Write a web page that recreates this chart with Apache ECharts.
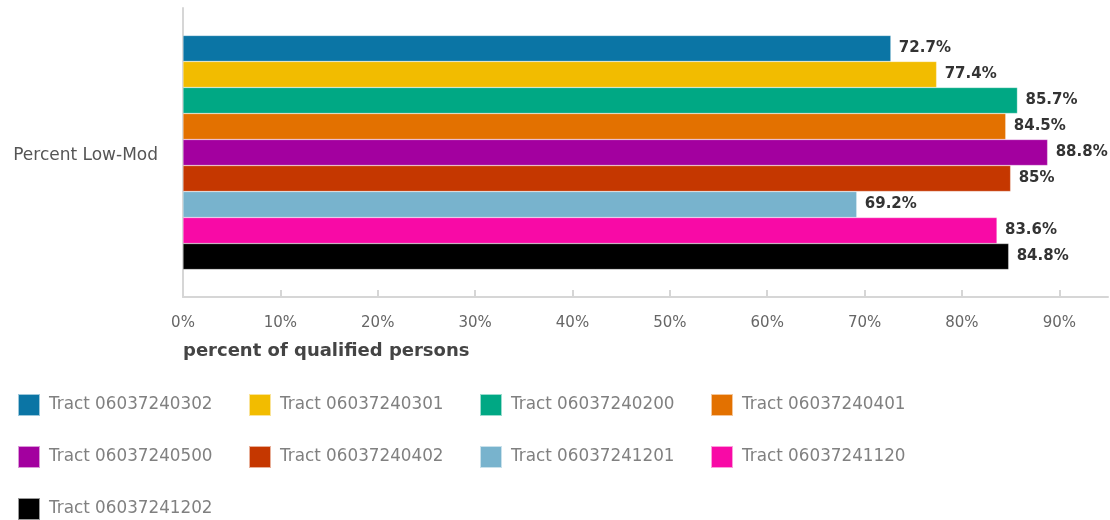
<!DOCTYPE html>
<html>
<head>
<meta charset="utf-8">
<script src="https://cdn.jsdelivr.net/npm/echarts@6/dist/echarts.min.js"></script>
<style>
  html, body { margin: 0; padding: 0; background: #fff; }
  #chart { width: 1110px; height: 520px; }
</style>
</head>
<body>
<div id="chart"></div>
<script>
// Share of low/moderate income persons per census tract
const categories = ['Percent Low-Mod'];
const tracts = [
  'Tract 06037240302', 'Tract 06037240301', 'Tract 06037240200',
  'Tract 06037240401', 'Tract 06037240500', 'Tract 06037240402',
  'Tract 06037241201', 'Tract 06037241120', 'Tract 06037241202'
];
const values = [72.7, 77.4, 85.7, 84.5, 88.8, 85, 69.2, 83.6, 84.8];
const colors = ['#0b75a5', '#f2bc00', '#00a884', '#e37100', '#a3009f',
                '#c53700', '#78b3cd', '#f80aa6', '#000000'];
const xTicks = [0, 10, 20, 30, 40, 50, 60, 70, 80, 90];

const chart = echarts.init(document.getElementById('chart'), null, { renderer: 'canvas' });

const series = tracts.map((name, i) => ({
  name: name,
  type: 'bar',
  data: [values[i]],
  barCategoryGap: '19%',
  barGap: '0%',
  itemStyle: { color: colors[i], borderColor: 'rgba(255,255,255,0.6)', borderWidth: 0.5 },
  label: {
    show: true,
    position: 'right',
    distance: 8,
    formatter: p => p.value + '%',
    fontFamily: 'DejaVu Sans',
    fontWeight: 'bold',
    fontSize: 15,
    color: '#333'
  }
}));

// Legend as a fixed 4-column grid: one single-entry legend per cell
const legendCols = 4;
const legends = tracts.map((name, i) => ({
  left: 17 + (i % legendCols) * 231,
  top: 393 + Math.floor(i / legendCols) * 52,
  padding: 0,
  orient: 'horizontal',
  icon: 'rect',
  itemWidth: 22,
  itemHeight: 22,
  data: [name],
  textStyle: { fontSize: 16.8, color: '#808080', padding: [0, 0, 0, 4] }
}));

chart.setOption({
  animation: false,
  color: colors,
  textStyle: { fontFamily: 'DejaVu Sans' },
  title: {
    text: 'percent of qualified persons',
    left: 178,
    top: 337,
    textStyle: { fontFamily: 'DejaVu Sans', fontWeight: 'bold', fontSize: 18, color: '#444' }
  },
  grid: { left: 183, right: 2, top: 8, bottom: 223, containLabel: false },
  xAxis: {
    type: 'value',
    min: xTicks[0],
    max: 95,
    interval: 10,
    splitLine: { show: false },
    axisLine: { show: true, lineStyle: { color: '#d6d6d6', width: 2 } },
    axisTick: { show: true, inside: true, length: 7, lineStyle: { color: '#d6d6d6', width: 2 } },
    axisLabel: {
      formatter: v => v + '%',
      fontSize: 15,
      color: '#666',
      margin: 19,
      showMaxLabel: false
    }
  },
  yAxis: {
    type: 'category',
    data: categories,
    inverse: true,
    axisLine: { show: true, lineStyle: { color: '#d6d6d6', width: 2 } },
    axisTick: { show: false },
    axisLabel: {
      margin: 25,
      formatter: v => '{c|' + v + '}',
      rich: { c: { fontSize: 17, color: '#555', padding: [7, 0, 0, 0] } }
    }
  },
  legend: legends,
  series: series
});
</script>
</body>
</html>
